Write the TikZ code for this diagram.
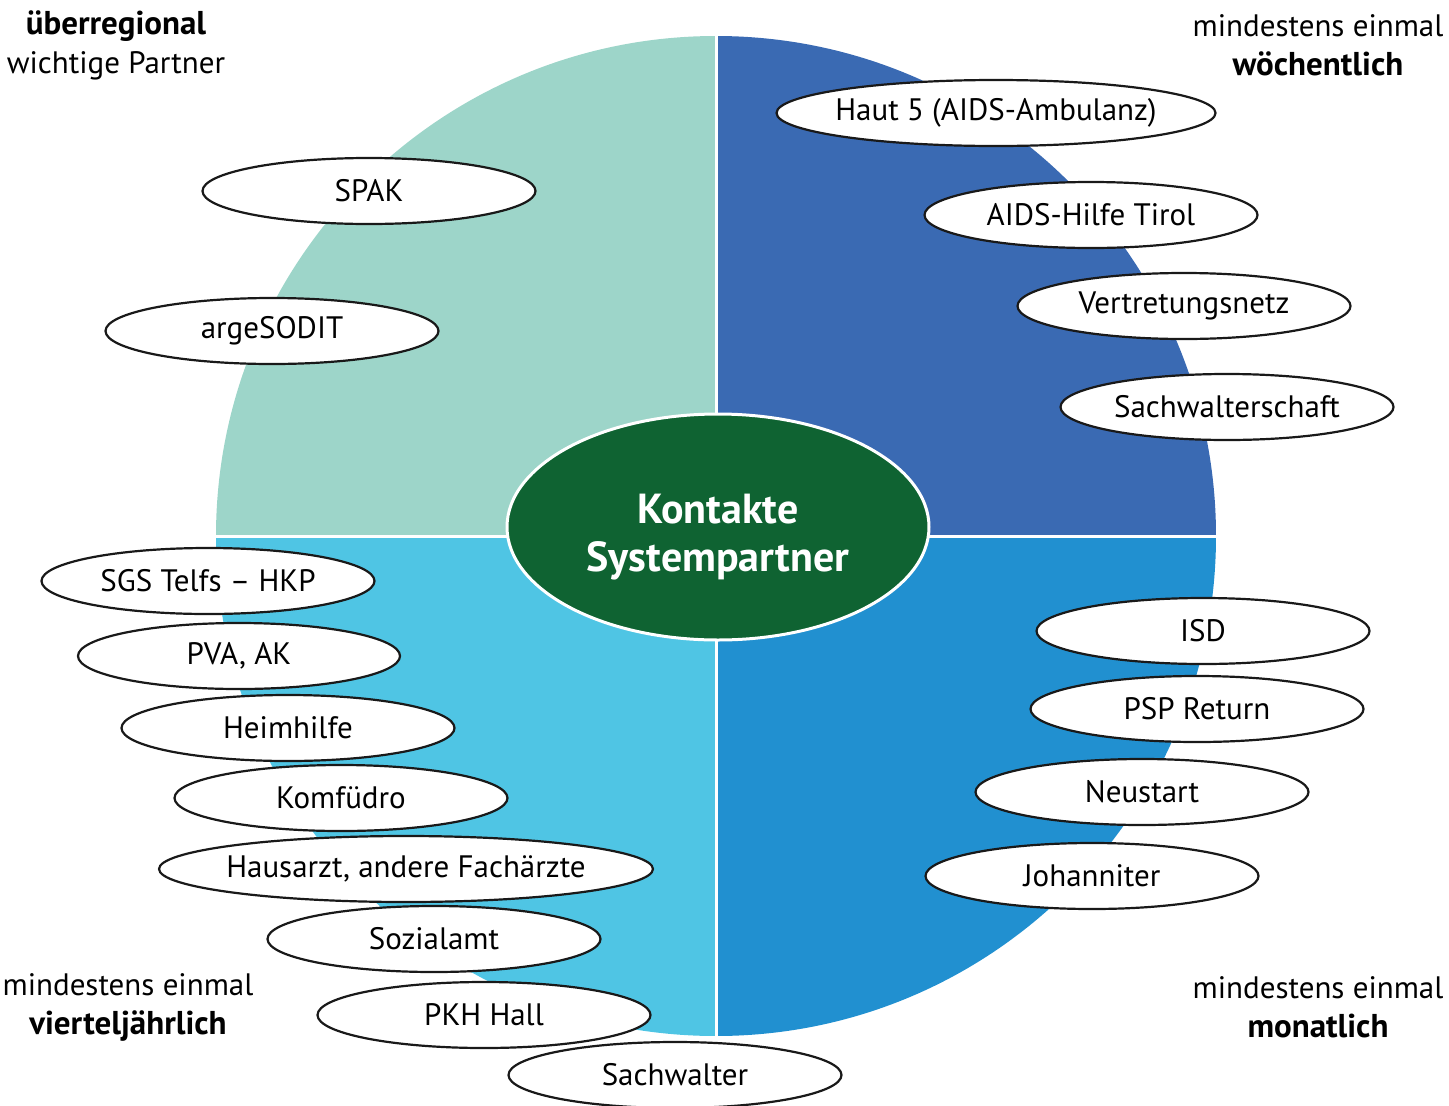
\documentclass[tikz,border=0pt]{standalone}
\usepackage{fontspec}
\setmainfont{PT Sans}
\usepackage{tikz}
\usetikzlibrary{shapes}
\definecolor{quadA}{HTML}{9DD5C9}
\definecolor{quadB}{HTML}{3A6AB3}
\definecolor{quadC}{HTML}{2190D0}
\definecolor{quadD}{HTML}{4FC5E4}
\definecolor{kgreen}{HTML}{0F6332}
\newcommand{\freqbold}[1]{{\fontsize{33}{39}\selectfont\bfseries #1}}
\tikzstyle{partner}=[ellipse,draw=black!90,fill=white,line width=2.2pt,minimum height=66pt,inner ysep=0pt,inner xsep=-40pt,font=\fontsize{31}{36}\selectfont]
\tikzstyle{corner}=[align=center,font=\fontsize{31}{39}\selectfont]
\tikzstyle{divider}=[draw=white,line width=3pt]

\begin{document}
\begin{tikzpicture}[x=1pt,y=-1pt]
    \useasboundingbox (0,0) rectangle (1449,1106);
    % The four quarters of the circle
    \coordinate (c) at (716,536);
    \begin{scope}
        \clip (c) circle (500);
        \fill[quadA] (c) rectangle (216,36);
        \fill[quadB] (c) rectangle (1216,36);
        \fill[quadC] (c) rectangle (1216,1036);
        \fill[quadD] (c) rectangle (216,1036);
    \end{scope}
    \coordinate (top) at (716,36);
    \coordinate (bottom) at (716,1036);
    \coordinate (left) at (216,536);
    \coordinate (right) at (1216,536);
    \path[divider] (top) -- (bottom);
    \path[divider] (left) -- (right);

    % centre
    \node[ellipse,fill=kgreen,draw=white,line width=3pt,minimum width=422pt,minimum height=226pt] (kontakte) at (718,527) {};
    \node[text=white,align=center,font=\bfseries\fontsize{42}{48}\selectfont] (kontaktetext) at (718,537) {Kontakte\\Systempartner};

    % Partners, weekly
    \foreach \pos/\name/\wid/\txt in {{(996,113)/haut/439/Haut 5 (AIDS-Ambulanz)}, {(1091,215)/aidshilfe/333/AIDS-Hilfe Tirol},
        {(1184,306)/vertretung/333/Vertretungsnetz}, {(1227,407)/sachwalterschaft/333/Sachwalterschaft}}
        \node[partner,minimum width=\wid pt] (\name) at \pos {\txt};

    % Partners, monthly
    \foreach \pos/\name/\wid/\txt in {{(1203,631)/isd/333/ISD}, {(1197,709)/psp/333/PSP Return},
        {(1142,792)/neustart/333/Neustart}, {(1092,876)/johanniter/333/Johanniter}}
        \node[partner,minimum width=\wid pt] (\name) at \pos {\txt};

    % Partners, supraregional
    \foreach \pos/\name/\wid/\txt in {{(369,191)/spak/333/SPAK}, {(272,331)/argesodit/333/argeSODIT}}
        \node[partner,minimum width=\wid pt] (\name) at \pos {\txt};

    % Partners, quarterly
    \foreach \pos/\name/\wid/\txt in {{(208,581)/sgs/333/SGS Telfs -- HKP}, {(239,656)/pva/322/{PVA, AK}},
        {(288,728)/heimhilfe/333/Heimhilfe}, {(341,798)/komfuedro/333/Komfüdro},
        {(406,869)/hausarzt/494/{Hausarzt, andere Fachärzte}}, {(434,939)/sozialamt/333/Sozialamt},
        {(484,1015)/pkh/333/PKH Hall}, {(675,1075)/sachwalter/333/Sachwalter}}
        \node[partner,minimum width=\wid pt] (\name) at \pos {\txt};

    % corner labels
    \node[corner] (ueber) at (116,45) {\freqbold{überregional}\\wichtige Partner};
    \node[corner] (woche) at (1318,45) {mindestens einmal\\\freqbold{wöchentlich}};
    \node[corner] (viertel) at (128,1007) {mindestens einmal\\\freqbold{vierteljährlich}};
    \node[corner] (monat) at (1318,1007) {mindestens einmal\\\freqbold{monatlich}};
\end{tikzpicture}
\end{document}
